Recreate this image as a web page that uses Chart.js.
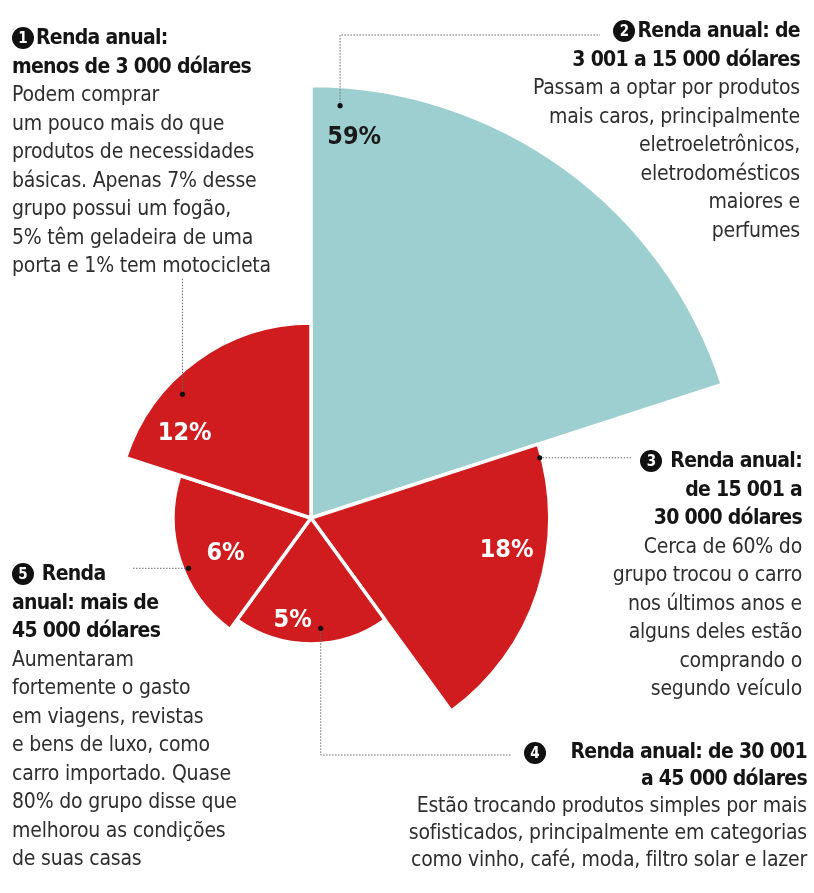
<!DOCTYPE html>
<html lang="pt-BR">
<head>
<meta charset="utf-8">
<title>Renda anual</title>
<script src="https://cdn.jsdelivr.net/npm/chart.js@4.4.1/dist/chart.umd.min.js"></script>
<style>
  html, body { margin:0; padding:0; background:#fff; }
  #stage { position:relative; width:814px; height:893px; overflow:hidden;
           font-family:"DejaVu Sans Condensed","Liberation Sans Narrow",Roboto,sans-serif; color:#2e2e2e; }
  #chart { position:absolute; left:0; top:0; }
  .note { position:absolute; font-size:21px; line-height:28.5px; white-space:nowrap; letter-spacing:-0.2px; }
  .note b { color:#151515; font-size:21px; letter-spacing:-0.7px; }
  .right { text-align:right; }
  .num { display:inline-block; width:22px; height:22px; border-radius:50%; background:#111; color:#fff;
         font-weight:bold; font-size:15px; line-height:22px; text-align:center; vertical-align:1px;
         margin-right:2px; letter-spacing:0; }
</style>
</head>
<body>
<div id="stage">
  <canvas id="chart" width="814" height="893"></canvas>

  <div class="note" style="left:12px;top:23px">
    <b><span class="num">1</span>Renda anual:<br>menos de 3&nbsp;000 dólares</b><br>
    Podem comprar<br>um pouco mais do que<br>produtos de necessidades<br>básicas. Apenas 7% desse<br>
    grupo possui um fogão,<br>5% têm geladeira de uma<br>porta e 1% tem motocicleta
  </div>

  <div class="note right" style="right:14px;top:16px">
    <b><span class="num">2</span>Renda anual: de<br>3&nbsp;001 a 15&nbsp;000 dólares</b><br>
    Passam a optar por produtos<br>mais caros, principalmente<br>eletroeletrônicos,<br>eletrodomésticos<br>maiores e<br>perfumes
  </div>

  <div class="note right" style="right:12px;top:446px">
    <b><span class="num">3</span> Renda anual:<br>de 15&nbsp;001 a<br>30&nbsp;000 dólares</b><br>
    Cerca de 60% do<br>grupo trocou o carro<br>nos últimos anos e<br>alguns deles estão<br>comprando o<br>segundo veículo
  </div>

  <span class="num" style="position:absolute;left:524px;top:742px">4</span>
  <div class="note right" style="right:7px;top:738px;line-height:27px">
    <b>Renda anual: de 30&nbsp;001<br>a 45&nbsp;000 dólares</b><br>
    Estão trocando produtos simples por mais<br>sofisticados, principalmente em categorias<br>como vinho, café, moda, filtro solar e lazer
  </div>

  <div class="note" style="left:12px;top:559px">
    <b><span class="num">5</span> Renda<br>anual: mais de<br>45&nbsp;000 dólares</b><br>
    Aumentaram<br>fortemente o gasto<br>em viagens, revistas<br>e bens de luxo, como<br>
    carro importado. Quase<br>80% do grupo disse que<br>melhorou as condições<br>de suas casas
  </div>
</div>

<script>
// faixas de renda anual, na ordem horária a partir do topo
const faixas = ['3 001 a 15 000', '15 001 a 30 000', '30 001 a 45 000', 'mais de 45 000', 'menos de 3 000'];
const percentuais = [59, 18, 5, 6, 12];
const rotulos = ['59%', '18%', '5%', '6%', '12%'];

const AZUL = '#9ecfd0', VERMELHO = '#d01c1e';
const cores = [AZUL, VERMELHO, VERMELHO, VERMELHO, VERMELHO];
const corRotulo = ['#1a1a1a', '#fff', '#fff', '#fff', '#fff'];

// onde fica o número dentro de cada fatia: t = fração do ângulo, f = fração do raio
const posRotulo = [
  { t: 0.09, f: 0.885 },
  { t: 0.38, f: 0.83 },
  { t: 0.64, f: 0.83 },
  { t: 0.44, f: 0.67 },
  { t: 0.22, f: 0.78 }
];

// fios pontilhados: ponto de partida na fatia e trajeto até o texto
const fios = [
  { t: 0.056, f: 0.956, rota: [['v', 35], ['h', 600]] },
  { t: 0.045, f: 0.99,  rota: [['h', 632]] },
  { t: 0.43,  f: 0.88,  rota: [['v', 755], ['h', 512]] },
  { t: 0.44,  f: 0.96,  rota: [['h', 133]] },
  { t: 0.36,  f: 0.915, rota: [['v', 278]] }
];

// escala radial com raio proporcional à raiz do valor (área ~ percentual)
class RadialSqrtScale extends Chart.RadialLinearScale {
  static id = 'radialSqrt';
  static defaults = Chart.RadialLinearScale.defaults;
  getDistanceFromCenterForValue(value) {
    if (value === null || value === undefined || isNaN(value)) return NaN;
    const span = this.max - this.min;
    return this.drawingArea * Math.sqrt(Math.max(value - this.min, 0) / span);
  }
}
Chart.register(RadialSqrtScale);

function pontoNaFatia(arc, t, f) {
  const a = arc.startAngle + t * (arc.endAngle - arc.startAngle);
  const r = arc.outerRadius * f;
  return { x: arc.x + r * Math.cos(a), y: arc.y + r * Math.sin(a) };
}

const anotacoes = {
  id: 'anotacoes',
  afterDatasetsDraw(chart) {
    const ctx = chart.ctx;
    const arcs = chart.getDatasetMeta(0).data;
    ctx.save();

    // fios e bolinhas
    fios.forEach((fio, i) => {
      const p = pontoNaFatia(arcs[i], fio.t, fio.f);
      ctx.beginPath();
      ctx.setLineDash([1.5, 1.5]);
      ctx.strokeStyle = '#6a6a6a';
      ctx.lineWidth = 1;
      let x = p.x, y = p.y;
      ctx.moveTo(x, y);
      fio.rota.forEach(([dir, v]) => {
        if (dir === 'v') y = v; else x = v;
        ctx.lineTo(x, y);
      });
      ctx.stroke();
      ctx.setLineDash([]);
      ctx.beginPath();
      ctx.fillStyle = '#111';
      ctx.arc(p.x, p.y, 2.6, 0, Math.PI * 2);
      ctx.fill();
    });

    // percentuais
    ctx.font = 'bold 25px "DejaVu Sans Condensed", sans-serif';
    ctx.textAlign = 'center';
    ctx.textBaseline = 'middle';
    arcs.forEach((arc, i) => {
      const p = pontoNaFatia(arc, posRotulo[i].t, posRotulo[i].f);
      ctx.fillStyle = corRotulo[i];
      ctx.fillText(rotulos[i], p.x, p.y);
    });
    ctx.restore();
  }
};

new Chart(document.getElementById('chart'), {
  type: 'polarArea',
  data: {
    labels: faixas,
    datasets: [{
      data: percentuais,
      backgroundColor: cores,
      borderColor: '#fff',
      borderWidth: 3.5,
      clip: false
    }]
  },
  options: {
    responsive: false,
    animation: false,
    events: [],
    // quadrado de 600 px centrado em (311, 518)
    layout: { padding: { left: 11, top: 218, right: 203, bottom: 75 } },
    plugins: { legend: { display: false }, tooltip: { enabled: false } },
    scales: {
      r: {
        type: 'radialSqrt',
        min: 0,
        max: 28.4,
        startAngle: 0,
        ticks: { display: false },
        grid: { display: false },
        angleLines: { display: false },
        pointLabels: { display: false }
      }
    }
  },
  plugins: [anotacoes]
});
</script>
</body>
</html>
